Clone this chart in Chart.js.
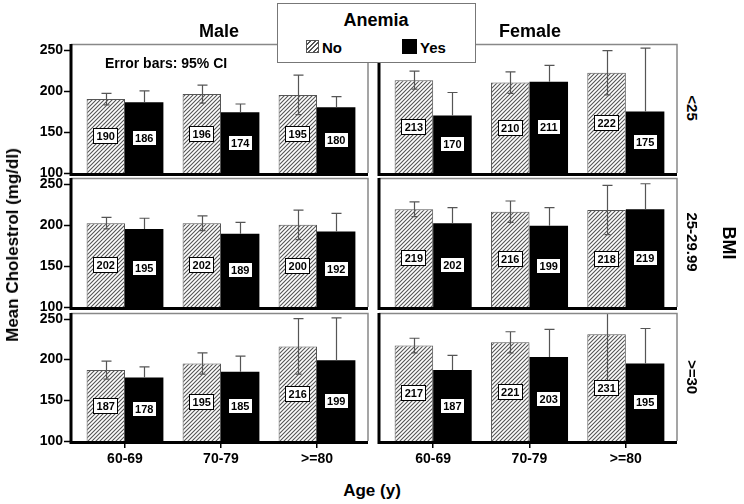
<!DOCTYPE html>
<html>
<head>
<meta charset="utf-8">
<script src="https://cdn.jsdelivr.net/npm/chart.js@4.4.0/dist/chart.umd.min.js"></script>
<style>
body{margin:0;width:744px;height:504px;position:relative;overflow:hidden;background:#fff;
  font-family:'Liberation Sans',Arial,sans-serif;font-weight:bold;color:#000}
canvas{position:absolute}
.t{position:absolute;white-space:nowrap;transform:translate(-50%,-50%);z-index:6}
.l{position:absolute;white-space:nowrap;transform:translateY(-50%);z-index:6}
#legend{position:absolute;left:277px;top:3px;width:197px;height:58px;border:1px solid #777;background:#fff;z-index:5}
.sw{position:absolute;z-index:6}
</style>
</head>
<body>
<div id="legend"></div>
<div class="t" style="left:376px;top:20px;font-size:18px">Anemia</div>
<div class="sw" style="left:306px;top:40px;width:13px;height:13px;border:1px solid #555;box-sizing:border-box;background:repeating-linear-gradient(135deg,#fff 0 2px,#555 2px 3.2px)"></div>
<div class="l" style="left:322px;top:47px;font-size:15px">No</div>
<div class="sw" style="left:402px;top:39px;width:15px;height:15px;background:#000"></div>
<div class="l" style="left:420px;top:47px;font-size:15px">Yes</div>

<div class="t" style="left:219px;top:31px;font-size:18px">Male</div>
<div class="t" style="left:530px;top:31px;font-size:18px">Female</div>
<div class="l" style="left:105px;top:63px;font-size:14px">Error bars: 95% CI</div>
<div class="t" style="left:13px;top:245px;font-size:17px;transform:translate(-50%,-50%) rotate(-90deg)">Mean Cholestrol (mg/dl)</div>
<div class="t" style="left:372px;top:491px;font-size:17px">Age (y)</div>
<div class="t" id="bmi0" style="left:692px;top:108px;font-size:15px;transform:translate(-50%,-50%) rotate(90deg)"></div>
<div class="t" id="bmi1" style="left:692px;top:242px;font-size:15px;transform:translate(-50%,-50%) rotate(90deg)"></div>
<div class="t" id="bmi2" style="left:692px;top:377px;font-size:15px;transform:translate(-50%,-50%) rotate(90deg)"></div>
<div class="t" style="left:728px;top:243px;font-size:18px;transform:translate(-50%,-50%) rotate(90deg)">BMI</div>

<script>
const ageGroups = ['60-69', '70-79', '>=80'];
const bmiGroups = ['<25', '25-29.99', '>=30'];
const yTicks = [100, 150, 200, 250];

// mean cholesterol, one row per BMI group, columns = age groups
const maleNo    = [[190, 196, 195], [202, 202, 200], [187, 195, 216]];
const maleYes   = [[186, 174, 180], [195, 189, 192], [178, 185, 199]];
const femaleNo  = [[213, 210, 222], [219, 216, 218], [217, 221, 231]];
const femaleYes = [[170, 211, 175], [202, 199, 219], [187, 203, 195]];

// half width of the 95% CI
const maleNoCI    = [[7, 11, 24], [7, 9, 18], [11, 13, 34]];
const maleYesCI   = [[14, 10, 13], [13, 14, 22], [13, 19, 52]];
const femaleNoCI  = [[11, 13, 27], [9, 13, 30], [9, 13, 66]];
const femaleYesCI = [[28, 20, 77], [19, 22, 31], [18, 34, 43]];

bmiGroups.forEach((b, i) => { document.getElementById('bmi' + i).textContent = b; });

const FONT = "'Liberation Sans', Arial, sans-serif";
const rowTops = [44, 178, 313];
const rowBottoms = [173, 307, 441];

function makeHatch() {
  const c = document.createElement('canvas');
  c.width = 4; c.height = 4;
  const g = c.getContext('2d');
  g.fillStyle = '#fff';
  g.fillRect(0, 0, 4, 4);
  g.strokeStyle = '#555';
  g.lineWidth = 1.1;
  g.beginPath();
  g.moveTo(0, 4); g.lineTo(4, 0);
  g.moveTo(-1, 1); g.lineTo(1, -1);
  g.moveTo(3, 5); g.lineTo(5, 3);
  g.stroke();
  return g.createPattern(c, 'repeat');
}
const hatch = makeHatch();

// error bars, frame and value boxes
const panelPlugin = {
  id: 'panel',
  afterDatasetsDraw(chart) {
    const {ctx, chartArea: a, scales: {x, y}} = chart;
    ctx.save();
    ctx.beginPath();
    ctx.rect(a.left, a.top, a.right - a.left, a.bottom - a.top);
    ctx.clip();
    ctx.strokeStyle = '#555';
    ctx.lineWidth = 1.2;
    chart.data.datasets.forEach((ds, di) => {
      const meta = chart.getDatasetMeta(di);
      meta.data.forEach((bar, j) => {
        const v = ds.data[j], h = ds.ci[j];
        const bx = Math.round(bar.x) + 0.5;
        const yHi = y.getPixelForValue(v + h);
        const yLo = y.getPixelForValue(v - h);
        const yV = y.getPixelForValue(v);
        ctx.beginPath();
        ctx.moveTo(bx, yV); ctx.lineTo(bx, yHi);
        ctx.moveTo(bx - 5, yHi); ctx.lineTo(bx + 5, yHi);
        if (di === 0) {
          ctx.moveTo(bx, yV); ctx.lineTo(bx, yLo);
          ctx.moveTo(bx - 3, yLo); ctx.lineTo(bx + 3, yLo);
        }
        ctx.stroke();
      });
    });
    ctx.restore();

    // frame
    ctx.save();
    ctx.strokeStyle = '#888';
    ctx.lineWidth = 1.5;
    ctx.beginPath();
    ctx.moveTo(a.left - 6, a.top + 0.5); ctx.lineTo(a.right + 3, a.top + 0.5);
    ctx.lineTo(a.right + 3, a.bottom);
    ctx.stroke();
    ctx.strokeStyle = '#000';
    ctx.lineWidth = 3;
    ctx.beginPath();
    ctx.moveTo(a.left - 6, a.top); ctx.lineTo(a.left - 6, a.bottom + 1.5);
    ctx.lineTo(a.right + 3, a.bottom + 1.5);
    ctx.stroke();
    if (chart.options.scales.y.display) {
      ctx.lineWidth = 1.5;
      ctx.beginPath();
      yTicks.forEach(t => {
        const ty = Math.round(y.getPixelForValue(t)) + 0.5;
        ctx.moveTo(a.left - 13, ty); ctx.lineTo(a.left - 6, ty);
      });
      ctx.stroke();
    }
    ctx.restore();

    // value boxes
    ctx.save();
    ctx.font = 'bold 11px ' + FONT;
    ctx.textAlign = 'center';
    ctx.textBaseline = 'middle';
    chart.data.datasets.forEach((ds, di) => {
      chart.getDatasetMeta(di).data.forEach((bar, j) => {
        const v = ds.data[j];
        const cy = Math.round(y.getPixelForValue((100 + v) / 2));
        const txt = String(v);
        const w = Math.ceil(ctx.measureText(txt).width) + 6;
        const bx = Math.round(bar.x - w / 2);
        ctx.fillStyle = '#fff';
        ctx.fillRect(bx, cy - 8, w, 16);
        ctx.strokeStyle = '#000';
        ctx.lineWidth = 1;
        ctx.strokeRect(bx + 0.5, cy - 7.5, w - 1, 15);
        ctx.fillStyle = '#000';
        ctx.fillText(txt, bar.x, cy + 0.5);
      });
    });
    ctx.restore();
  }
};

function makePanel(col, row) {
  const bottomRow = row === 2;
  const padTop = 8;
  const left = col === 0 ? 0 : 372;
  const width = col === 0 ? 372 : 310;
  const top = rowTops[row] - padTop;
  const height = padTop + (rowBottoms[row] - rowTops[row]) + (bottomRow ? 34 : 6);

  const cv = document.createElement('canvas');
  cv.width = width; cv.height = height;
  cv.style.left = left + 'px'; cv.style.top = top + 'px';
  cv.style.width = width + 'px'; cv.style.height = height + 'px';
  document.body.appendChild(cv);

  const no = col === 0 ? maleNo[row] : femaleNo[row];
  const yes = col === 0 ? maleYes[row] : femaleYes[row];
  const noCI = col === 0 ? maleNoCI[row] : femaleNoCI[row];
  const yesCI = col === 0 ? maleYesCI[row] : femaleYesCI[row];

  new Chart(cv, {
    type: 'bar',
    data: {
      labels: ageGroups,
      datasets: [
        {label: 'No', data: no, ci: noCI, backgroundColor: hatch, borderColor: '#555', borderWidth: 1},
        {label: 'Yes', data: yes, ci: yesCI, backgroundColor: '#000', borderWidth: 0}
      ]
    },
    options: {
      responsive: false,
      animation: false,
      devicePixelRatio: 1,
      layout: {padding: {top: padTop, bottom: bottomRow ? 0 : 6, left: col === 0 ? 0 : 13, right: col === 0 ? 7 : 8}},
      datasets: {bar: {categoryPercentage: 0.8, barPercentage: 1.0}},
      plugins: {legend: {display: false}, tooltip: {enabled: false}},
      scales: {
        x: {
          display: bottomRow,
          grid: {display: true, drawOnChartArea: false, drawTicks: true, tickLength: 7, offset: false, color: '#000', lineWidth: 1.5},
          border: {display: false},
          ticks: {font: {family: FONT, size: 14, weight: 'bold'}, color: '#000', padding: 3, maxRotation: 0},
          afterFit: s => {
            if (bottomRow) s.height = 34;
            s.paddingLeft = 0; s.paddingRight = 0;
          }
        },
        y: {
          display: col === 0,
          min: 100,
          max: 257,
          grid: {display: false, drawTicks: false},
          border: {display: false},
          ticks: {font: {family: FONT, size: 14, weight: 'bold'}, color: '#000', padding: 14},
          afterBuildTicks: s => { s.ticks = yTicks.map(v => ({value: v})); },
          afterFit: s => {
            if (col === 0) s.width = 77;
            s.paddingTop = 0; s.paddingBottom = 0;
          }
        }
      }
    },
    plugins: [panelPlugin]
  });
}

for (let r = 0; r < 3; r++) {
  makePanel(0, r);
  makePanel(1, r);
}
</script>
</body>
</html>
